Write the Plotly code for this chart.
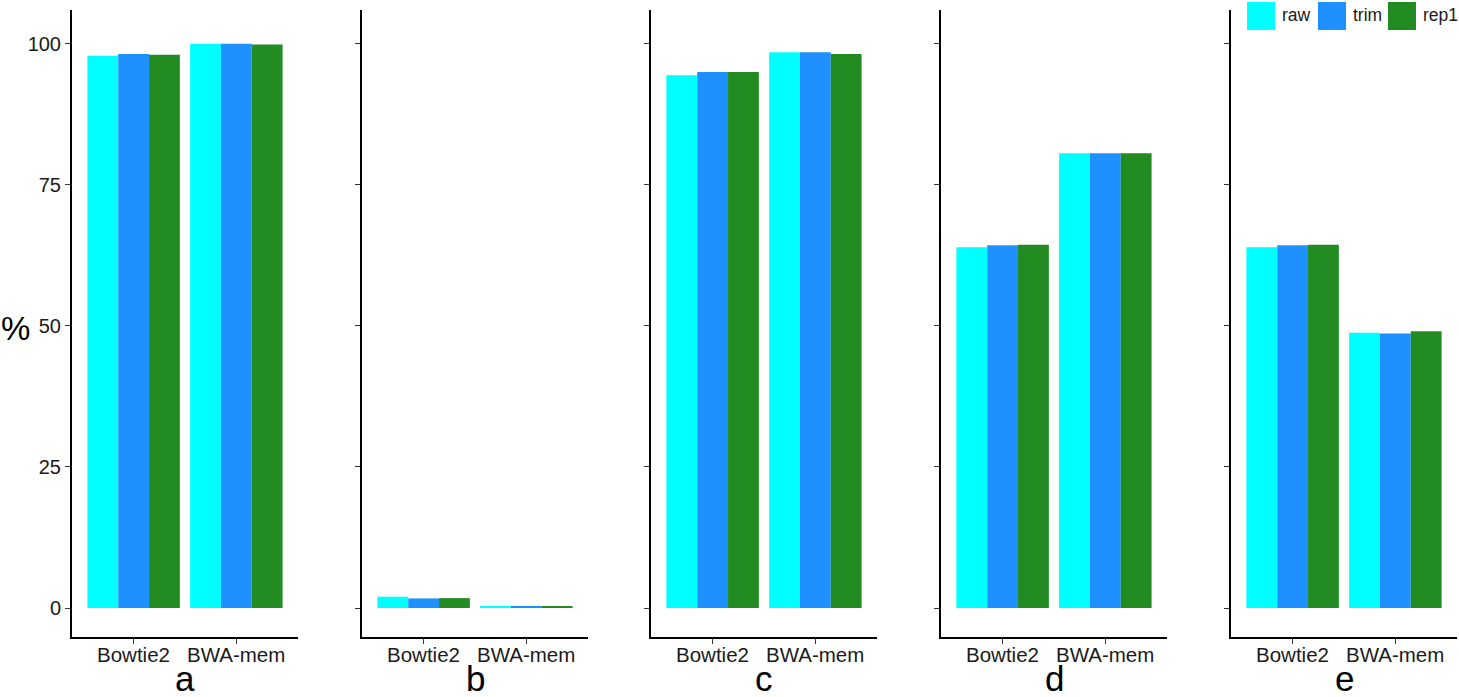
import plotly.graph_objects as go

W, H = 1459, 697

categories = ["Bowtie2", "BWA-mem"]
panels = ["a", "b", "c", "d", "e"]
series_names = ["raw", "trim", "rep1"]
series_colors = ["#00FFFF", "#1E90FF", "#228B22"]

# values per panel: [Bowtie2, BWA-mem]
raw_vals = {
    "a": [97.9, 100.0],
    "b": [2.0, 0.2],
    "c": [94.45, 98.5],
    "d": [63.95, 80.6],
    "e": [63.95, 48.8],
}
trim_vals = {
    "a": [98.2, 100.0],
    "b": [1.7, 0.2],
    "c": [95.0, 98.5],
    "d": [64.3, 80.6],
    "e": [64.3, 48.65],
}
rep1_vals = {
    "a": [98.05, 99.9],
    "b": [1.75, 0.2],
    "c": [95.0, 98.2],
    "d": [64.4, 80.6],
    "e": [64.4, 49.05],
}
y_ticks = [0, 25, 50, 75, 100]

series_vals = [raw_vals, trim_vals, rep1_vals]

# layout geometry (pixels)
axis_left_px = [72, 362, 651, 941, 1231]
panel_w_px = 226
top_px, bottom_px = 10, 637

FONT = "Liberation Sans, Arial, sans-serif"
INK = "#1a1a1a"

plot_h = bottom_px - top_px


def ypaper(px):
    return (bottom_px - px) / plot_h


fig = go.Figure()
layout_axes = {}
annotations = []
shapes = []
for i, p in enumerate(panels):
    idx = "" if i == 0 else str(i + 1)
    for name, col, vals in zip(series_names, series_colors, series_vals):
        fig.add_trace(go.Bar(
            x=categories, y=vals[p], name=name,
            marker=dict(color=col, line=dict(width=0)),
            xaxis="x" + idx, yaxis="y" + idx,
            showlegend=False, offsetgroup=name,
        ))
    x0 = axis_left_px[i] / W
    x1 = (axis_left_px[i] + panel_w_px) / W
    layout_axes["xaxis" + idx] = dict(
        domain=[x0, x1], anchor="y" + idx, type="category",
        range=[-0.6, 1.6], showline=True, linecolor="black", linewidth=2,
        ticks="outside", ticklen=5, tickwidth=1.2, tickcolor="#333",
        showticklabels=False,
        showgrid=False, zeroline=False,
        fixedrange=True,
    )
    layout_axes["yaxis" + idx] = dict(
        domain=[0, 1], anchor="x" + idx,
        range=[-5.14, 106.0], showline=True, linecolor="black", linewidth=2,
        ticks="outside", ticklen=5, tickwidth=1.2, tickcolor="#333",
        tickvals=y_ticks, ticktext=[str(t) for t in y_ticks],
        showticklabels=(i == 0),
        showgrid=False, zeroline=False,
        tickfont=dict(family=FONT, size=20, color=INK),
        fixedrange=True,
    )
    # category labels placed just under the axis
    for c in categories:
        annotations.append(dict(
            text=c, x=c, xref="x" + idx, y=ypaper(654), yref="paper",
            xanchor="center", yanchor="middle", showarrow=False,
            font=dict(family=FONT, size=20.5, color=INK),
        ))
    # panel letter
    cx = (axis_left_px[i] + panel_w_px / 2) / W
    annotations.append(dict(
        text=p, x=cx, y=ypaper(679), xref="paper", yref="paper",
        xanchor="center", yanchor="middle", showarrow=False,
        font=dict(family=FONT, size=35, color="black"),
    ))

annotations.append(dict(
    text="%", x=15 / W, y=ypaper(328), xref="paper", yref="paper",
    xanchor="center", yanchor="middle", showarrow=False,
    font=dict(family=FONT, size=33, color="black"),
))

# legend (manual, large keys)
leg_sq_x = [1247, 1318, 1388]
for name, col, lx in zip(series_names, series_colors, leg_sq_x):
    shapes.append(dict(
        type="rect", xref="paper", yref="paper",
        x0=lx / W, x1=(lx + 28) / W, y0=ypaper(30), y1=ypaper(2),
        fillcolor=col, line=dict(width=0),
    ))
    annotations.append(dict(
        text=name, x=(lx + 33) / W, y=ypaper(15), xref="paper", yref="paper",
        xanchor="left", yanchor="middle", showarrow=False,
        font=dict(family=FONT, size=17.5, color=INK),
    ))

fig.update_layout(
    width=W, height=H,
    margin=dict(l=0, r=0, t=top_px, b=H - bottom_px),
    paper_bgcolor="white", plot_bgcolor="white",
    barmode="group", bargap=0.1, bargroupgap=0,
    annotations=annotations, shapes=shapes,
    showlegend=False,
    **layout_axes,
)

fig.write_html(
    "out.html",
    config={"displayModeBar": False},
    post_script="document.body.style.margin='0';document.body.style.padding='0';",
)
